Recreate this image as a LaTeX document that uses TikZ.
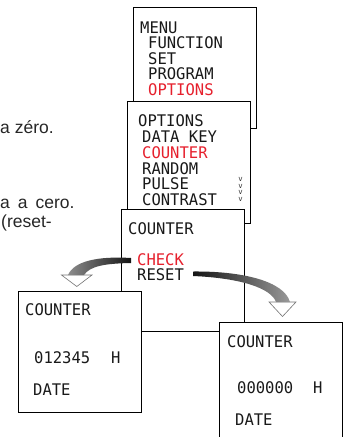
\documentclass[tikz,border=0pt]{standalone}
\usepackage{fontspec}
\setmainfont{Liberation Sans}
\newfontfamily\lcdfont[FakeStretch=0.97]{DejaVu Sans Mono}
\definecolor{lcdred}{RGB}{230,32,45}
\tikzset{
  screen/.style={draw, fill=white, line width=0.7pt, anchor=north west, inner sep=0pt},
  lcd/.style={anchor=base west, inner sep=0pt, text=black!90,
    font=\lcdfont\fontsize{16}{17}\selectfont},
  lcd red/.style={lcd, text=lcdred},
  scroll mark/.style={inner sep=0pt, text=black!80, font=\lcdfont\fontsize{7.5}{8}\selectfont},
  body/.style={anchor=base west, inner sep=0pt, text=black!85,
    font=\fontsize{17.5}{20}\selectfont},
  arrow head/.style={draw=black!55, fill=white, line width=0.6pt, line join=miter},
}

\begin{document}
\begin{tikzpicture}[x=1pt, y=-1pt]
  \useasboundingbox (0,0) rectangle (349,437);
  \node[body] (fr)   at (0,133)  {a zéro.};
  \node[body] (es)   at (0,208)  {\spaceskip=8pt a a cero.};
  \node[body] (rst)  at (1,227)  {(reset-};

  \node[screen, minimum width=123pt, minimum height=121pt] (menu) at (133,7) {};
  \node[lcd]     (m0) at (140,33)   {MENU};
  \node[lcd]     (m1) at (148,48.5) {FUNCTION};
  \node[lcd]     (m2) at (148,64)   {SET};
  \node[lcd]     (m3) at (148,79.5) {PROGRAM};
  \node[lcd red] (m4) at (148,95)   {OPTIONS};

  \node[screen, minimum width=123pt, minimum height=122pt] (options) at (127,101) {};
  \node[lcd]     (o0) at (138,126) {OPTIONS};
  \node[lcd]     (o1) at (142,142) {DATA KEY};
  \node[lcd red] (o2) at (142,158) {COUNTER};
  \node[lcd]     (o3) at (142,174) {RANDOM};
  \node[lcd]     (o4) at (142,189.5) {PULSE};
  \node[lcd]     (o5) at (142,205) {CONTRAST};
  \foreach \i in {0,...,3}
    \node[scroll mark] (v\i) at (240.5,179.5+6.7*\i) {v};

  \node[screen, minimum width=123pt, minimum height=122pt] (counter) at (121,209) {};
  \node[lcd]     (c0) at (128,234) {COUNTER};
  \node[lcd red] (c1) at (137,265) {CHECK};
  \node[lcd]     (c2) at (137,280.5) {RESET};

  \node[screen, minimum width=123pt, minimum height=121pt] (checkbox) at (18,291) {};
  \node[lcd] (k0) at (25,315.5) {COUNTER};
  \node[lcd] (k1) at (34,363.5) {012345};
  \node[lcd] (k2) at (111,363.5) {H};
  \node[lcd] (k3) at (33,395.5) {DATE};

  \node[screen, minimum width=123pt, minimum height=123pt] (resetbox) at (219,322) {};
  \node[lcd] (r0) at (227,347.5) {COUNTER};
  \node[lcd] (r1) at (237,393.5) {000000};
  \node[lcd] (r2) at (313,393.5) {H};
  \node[lcd] (r3) at (235,425.5) {DATE};

  \coordinate (tipL) at (76.8,286.5);
  \coordinate (tipR) at (282.5,316.5);
  \draw[arrow head] (61.5,275) -- (92,275) -- (tipL) -- cycle;
  \shade[left color=black!45, right color=black!92]
    (131,258) .. controls (98,256) and (74,261) .. (68,275)
    -- (84,275) .. controls (90,266) and (105,263.5) .. (131,263) -- cycle;
  \draw[arrow head] (269,302) -- (296,302) -- (tipR) -- cycle;
  \shade[left color=black!92, right color=black!40]
    (193,271.5) .. controls (242,271) and (284,281) .. (290,302)
    -- (276,302) .. controls (271,288) and (240,278) .. (193,276) -- cycle;
\end{tikzpicture}
\end{document}
